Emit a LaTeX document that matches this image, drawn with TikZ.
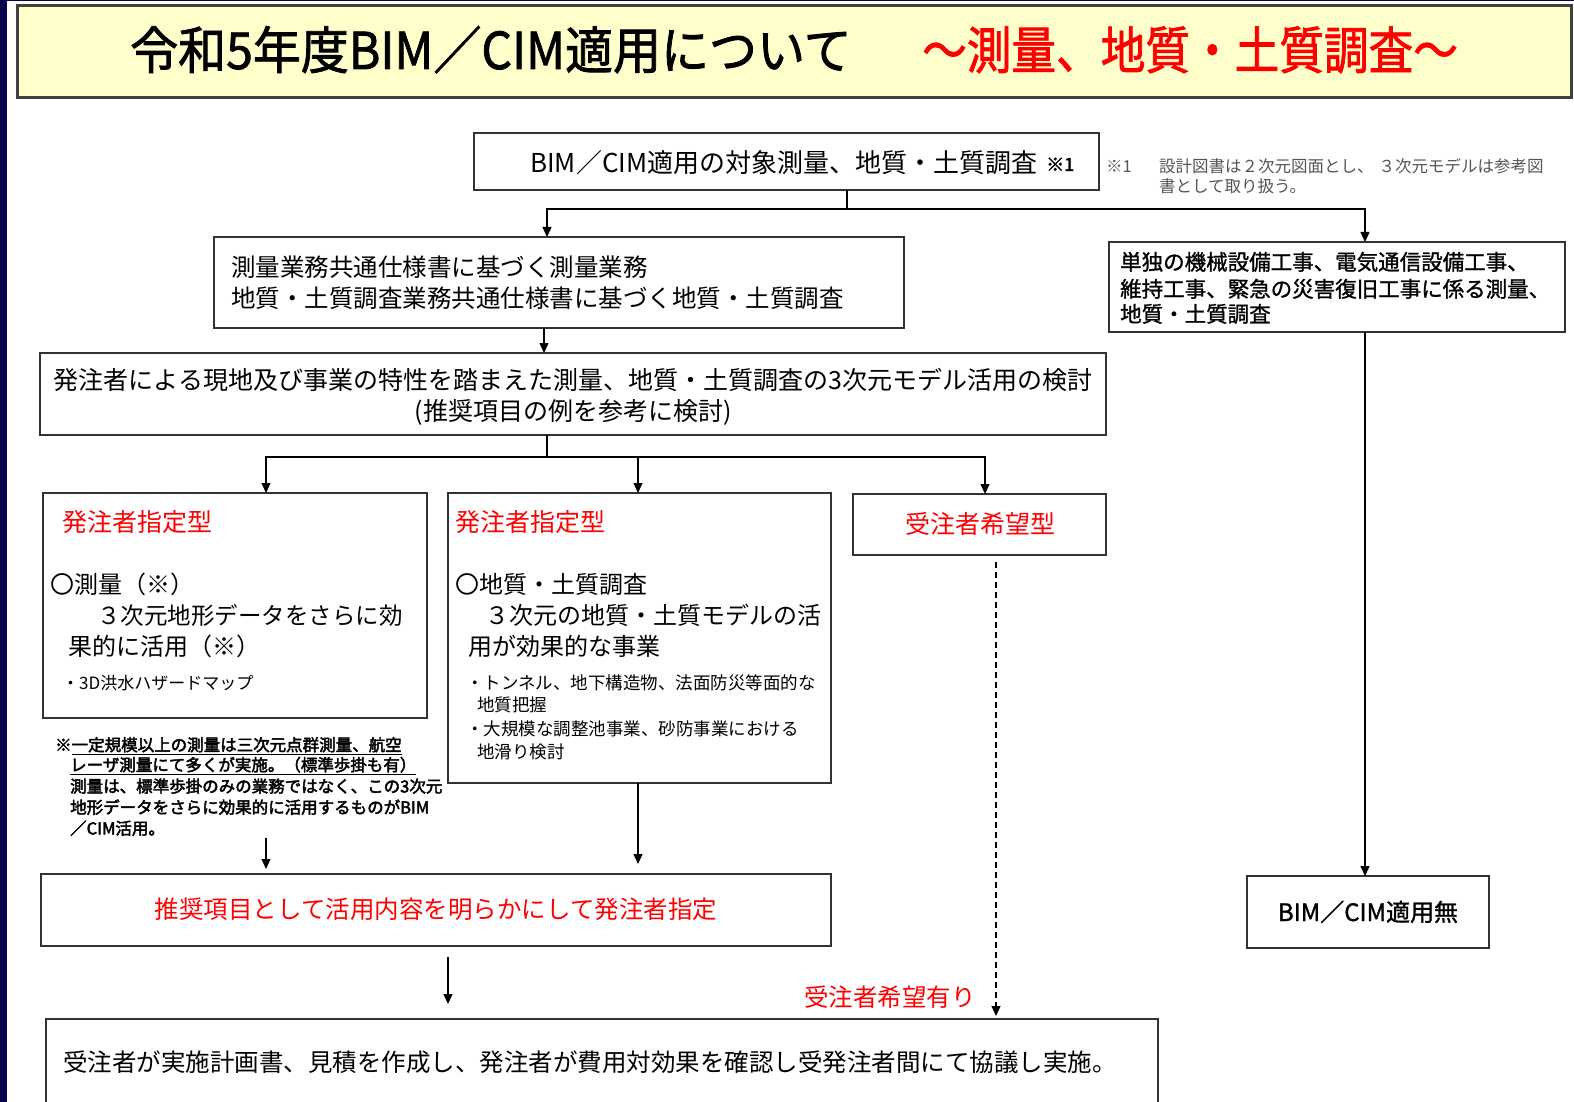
\documentclass[tikz,border=0pt]{standalone}
\usepackage{fontspec}
\setmainfont{Noto Sans CJK JP}
\newfontfamily\jpb{Noto Sans CJK JP}[FakeBold=1.2]
\newfontfamily\jpbb{Noto Sans CJK JP}[FakeBold=2.6]
\newfontfamily\jpt{Noto Sans CJK JP}[FakeBold=1.6]
\usetikzlibrary{arrows.meta}
\definecolor{navy}{HTML}{05054C}
\definecolor{titlefill}{HTML}{FFFFCC}
\definecolor{boxline}{HTML}{333333}
\definecolor{jred}{HTML}{FF0000}
\definecolor{notegray}{HTML}{555555}
\newcommand\jline[5][]{\node[txt,#1] (#2) at (#3) {\fontsize{#4}{#4}\selectfont #5};}
\begin{document}
\begin{tikzpicture}[x=1pt,y=-1pt,
  box/.style={draw=boxline, line width=1.5pt, fill=white, inner sep=0pt, outer sep=0pt, anchor=north west},
  txt/.style={inner sep=0pt, anchor=base west},
  arr/.style={line width=1.3pt, -{Triangle[length=10pt,width=9pt]}},
  link/.style={line width=1.3pt},
  dashlink/.style={line width=1.2pt, dash pattern=on 6pt off 4pt}]
\useasboundingbox (0,0) rectangle (1574,1102);
\fill[white] (0,0) rectangle (1574,1102);
\fill[navy] (0,0) rectangle (7,1102);
\fill[navy] (0,0) rectangle (1574,1.5);

% title
\fill[black!35] (18,95) rectangle (1573,99);
\node[draw=black!75, line width=3pt, fill=titlefill, minimum width=1554pt, minimum height=92pt, anchor=north west, inner sep=0pt] (T) at (16,4) {};
\node[txt] (t1) at (130,69) {\scalebox{1}[1.06]{\jpt\fontsize{48}{48}\selectfont 令和5年度BIM／CIM適用について}};
\node[txt, text=jred] (t2) at (922,69) {\scalebox{0.93}[1.06]{\jpt\fontsize{48}{48}\selectfont ～測量、地質・土質調査～}};

% boxes
\node[box, minimum width=625pt, minimum height=57pt] (A) at (474,133) {};
\node[box, minimum width=690pt, minimum height=91pt] (B) at (214,237) {};
\node[box, minimum width=456pt, minimum height=90pt] (R) at (1109,242) {};
\node[box, minimum width=242pt, minimum height=72pt] (N) at (1247,876) {};
\node[box, line width=2pt, minimum width=1066pt, minimum height=82pt] (C) at (40,353) {};
\node[box, minimum width=384pt, minimum height=225pt] (D1) at (43,493) {};
\node[box, minimum width=383pt, minimum height=290pt] (D2) at (448,493) {};
\node[box, minimum width=253pt, minimum height=61pt] (D3) at (853,494) {};
\node[box, minimum width=790pt, minimum height=72pt] (E) at (41,874) {};
\node[box, minimum width=1112pt, minimum height=100pt] (F) at (46,1019) {};

% texts
\jline{Atx}{530,172.5}{26}{BIM／CIM適用の対象測量、地質・土質調査}
\jline{Ast}{1046,171}{18}{\jpbb ※1}
\jline[text=notegray]{n0}{1106,173}{16.5}{※1}
\jline[text=notegray]{n1}{1159,173}{16.5}{設計図書は２次元図面とし、\hspace{5pt}３次元モデルは参考図}
\jline[text=notegray]{n2}{1159,193}{16.5}{書として取り扱う。}

\jline{B1}{231,276.3}{24.5}{測量業務共通仕様書に基づく測量業務}
\jline{B2}{231,307.3}{24.5}{地質・土質調査業務共通仕様書に基づく地質・土質調査}

\jline{R1}{1120,270}{21.5}{\jpb 単独の機械設備工事、電気通信設備工事、}
\jline{R2}{1120,297}{21.5}{\jpb 維持工事、緊急の災害復旧工事に係る測量、}
\jline{R3}{1120,322}{21.5}{\jpb 地質・土質調査}

\jline[anchor=base]{Ntx}{1368,921}{24}{\jpb BIM／CIM適用無}

\jline[anchor=base]{C1}{573,389}{25}{発注者による現地及び事業の特性を踏まえた測量、地質・土質調査の3次元モデル活用の検討}
\jline[anchor=base]{C2}{573,420}{25}{(推奨項目の例を参考に検討)}

\jline[text=jred]{D1a}{62,531.5}{25}{発注者指定型}
\jline{D1b}{50,593}{24}{〇測量（※）}
\jline{D1c}{97,624}{23.5}{３次元地形データをさらに効}
\jline{D1d}{68,655.5}{24}{果的に活用（※）}
\jline{D1e}{62,689}{17}{・3D洪水ハザードマップ}

\jline[text=jred]{D2a}{455,531.5}{25}{発注者指定型}
\jline{D2b}{455,593}{24}{〇地質・土質調査}
\jline{D2c}{485,624}{24}{３次元の地質・土質モデルの活}
\jline{D2d}{468,655.5}{24}{用が効果的な事業}
\jline{D2e}{466,689}{17.5}{・トンネル、地下構造物、法面防災等面的な}
\jline{D2f}{477,711.3}{17.5}{地質把握}
\jline{D2g}{466,735.4}{17.5}{・大規模な調整池事業、砂防事業における}
\jline{D2h}{477,758.5}{17.5}{地滑り検討}

\jline[text=jred, anchor=base]{D3t}{980,533.5}{25}{受注者希望型}

\jline{fn1}{55,751}{16.5}{\jpbb ※\underline{一定規模以上の測量は三次元点群測量、航空}}
\jline{fn2}{70,771}{16.5}{\jpbb \underline{レーザ測量にて多くが実施。（標準歩掛も有）}}
\jline{fn3}{70,792.4}{16.5}{\jpbb 測量は、標準歩掛のみの業務ではなく、この3次元}
\jline{fn4}{70,813.5}{16.5}{\jpbb 地形データをさらに効果的に活用するものがBIM}
\jline{fn5}{70,834.5}{16.5}{\jpbb ／CIM活用。}

\jline[text=jred, anchor=base]{Et}{436,918.3}{24.5}{推奨項目として活用内容を明らかにして発注者指定}
\jline{Ft}{63,1071.3}{24.5}{受注者が実施計画書、見積を作成し、発注者が費用対効果を確認し受発注者間にて協議し実施。}
\jline[text=jred, anchor=base east]{Lh}{976,1006}{24.5}{受注者希望有り}

% connectors
\coordinate (jA) at (847,209);
\coordinate (xB) at (547,0);
\coordinate (xR) at (1365,0);
\coordinate (xC) at (544,0);
\coordinate (jC) at (547,457);
\coordinate (x1) at (266,0);
\coordinate (x2) at (638,0);
\coordinate (x3) at (985,0);
\coordinate (xF) at (448,0);
\coordinate (xD) at (996,0);
\draw[link] (A.south -| jA) -- (jA);
\draw[arr] (jA) -| (B.north -| xB);
\draw[arr] (jA) -| (R.north -| xR);
\draw[arr] (R.south -| xR) -- (N.north -| xR);
\draw[arr] (B.south -| xC) -- (C.north -| xC);
\draw[link] (C.south -| jC) -- (jC);
\draw[arr] (jC) -| (D1.north -| x1);
\draw[arr] (jC) -| (D2.north -| x2);
\draw[arr] (jC) -| (D3.north -| x3);
\draw[arr, shorten <=2pt, shorten >=5pt] (fn5.south -| x1) -- (E.north -| x1);
\draw[arr, shorten >=10pt] (D2.south -| x2) -- (E.north -| x2);
\draw[arr, shorten <=11pt, shorten >=15pt] (E.south -| xF) -- (F.north -| xF);
\draw[arr, dashlink, shorten <=7pt, shorten >=3pt] (D3.south -| xD) -- (F.north -| xD);
\end{tikzpicture}
\end{document}
